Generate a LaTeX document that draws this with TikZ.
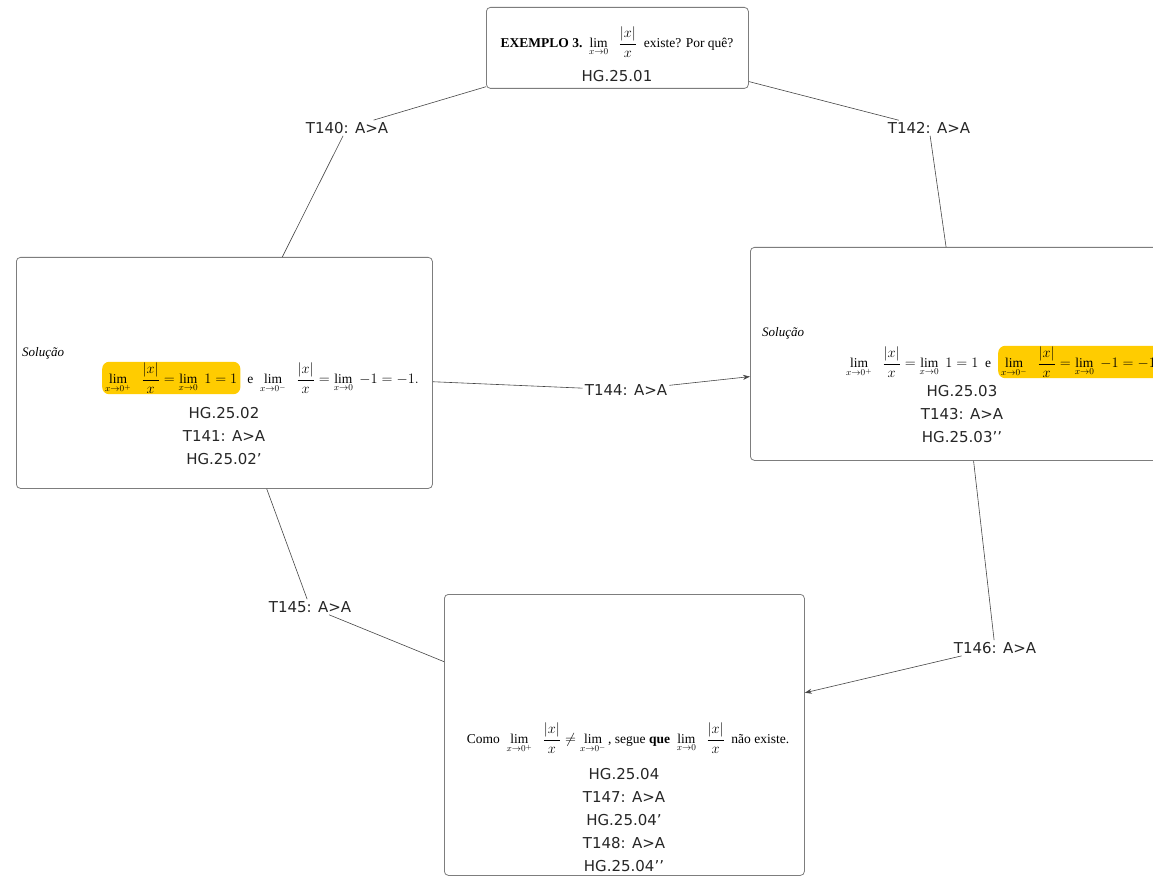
\documentclass[tikz,border=0pt]{standalone}
\usepackage{fontspec}
\setmainfont{Liberation Serif}
\newfontfamily\lab{DejaVu Sans}
\usetikzlibrary{arrows.meta}
\definecolor{hl}{RGB}{255,204,0}
\definecolor{boxline}{RGB}{125,125,125}
\definecolor{edgeline}{RGB}{70,70,70}
% limit of |x|/x, with the wide spacing used in the worked example
\newcommand{\absfrac}[1]{\lim_{x\to#1}\;\;\frac{|x|}{x}}

\begin{document}
\begin{tikzpicture}[x=1pt,y=-1pt,
  box/.style={draw=boxline, line width=0.8pt, rounded corners=4pt, inner sep=0pt, anchor=north west},
  tag/.style={font=\lab\fontsize{15}{23}\selectfont, align=center, text=black!85, inner sep=1pt},
  edgelab/.style={font=\lab\fontsize{15}{18}\selectfont, text=black!85, inner sep=2pt},
  frm/.style={font=\fontsize{13.5}{15}\selectfont, inner sep=0pt},
  hlbox/.style={frm, fill=hl, rounded corners=7pt, inner xsep=3pt, inner ysep=1pt},
  solu/.style={font=\itshape\fontsize{13}{15}\selectfont, inner sep=0pt, anchor=west},
  link/.style={draw=edgeline, line width=0.6pt},
  arr/.style={link, -{Stealth[length=7pt,width=5pt]}}
]
\useasboundingbox (0,0) rectangle (1153,877);
\clip (0,0) rectangle (1153,877);
\fill[white] (0,0) rectangle (1153,877);

% the four boxes
\node[box, minimum width=262, minimum height=81]  (top)    at (486,7)   {};
\node[box, minimum width=416, minimum height=231] (left)   at (16,257)  {};
\node[box, minimum width=422, minimum height=213] (right)  at (750,247) {};
\node[box, minimum width=360, minimum height=281] (bottom) at (444,594) {};

% top box content
\node[frm] (f1) at (617,42) {\textbf{EXEMPLO 3.}\enspace $\displaystyle\absfrac{0}$\enspace existe? Por quê?};
\node[tag] (t1) at (617,76) {HG.25.01};

% left box content
\node[solu] (s2) at (22,353) {Solução};
\node[hlbox, anchor=west] (f2a) at (102,378) {$\displaystyle\absfrac{0^+}=\lim_{x\to0}\;1=1$};
\node[frm, anchor=west] (f2b) at (f2a.east) {\enspace e\enspace $\displaystyle\absfrac{0^-}=\lim_{x\to0}\;-1=-1.$};
\node[tag] (t2) at (224,436) {HG.25.02\\T141: A>A\\HG.25.02’};

% right box content
\node[solu] (s3) at (762,333) {Solução};
\node[frm, anchor=west] (f3a) at (846,362) {$\displaystyle\absfrac{0^+}=\lim_{x\to0}\;1=1$\enspace e\enspace};
\node[hlbox, anchor=west] (f3b) at (f3a.east) {$\displaystyle\absfrac{0^-}=\lim_{x\to0}\;-1=-1.$};
\node[tag] (t3) at (962,414) {HG.25.03\\T143: A>A\\HG.25.03’’};

% bottom box content
\node[frm] (f4) at (628,738) {Como\enspace $\displaystyle\absfrac{0^+}\neq\lim_{x\to0^-}$\,, segue \textbf{que}\enspace $\displaystyle\absfrac{0}$\enspace não existe.};
\node[tag] (t4) at (624,820) {HG.25.04\\T147: A>A\\HG.25.04’\\T148: A>A\\HG.25.04’’};

% connector labels
\node[edgelab] (l140) at (347,128) {T140: A>A};
\node[edgelab] (l142) at (929,128) {T142: A>A};
\node[edgelab] (l144) at (626,390) {T144: A>A};
\node[edgelab] (l145) at (310,607) {T145: A>A};
\node[edgelab] (l146) at (995,648) {T146: A>A};

% connectors
\draw[link] (top) -- (l140) -- (left);
\draw[link] (top) -- (l142) -- (right);
\draw[link] (left) -- (l144);
\draw[arr] (l144) -- (right);
\draw[link] (left) -- (l145) -- (bottom);
\draw[link] (right) -- (l146);
\draw[arr] (l146) -- (bottom);
\end{tikzpicture}
\end{document}
